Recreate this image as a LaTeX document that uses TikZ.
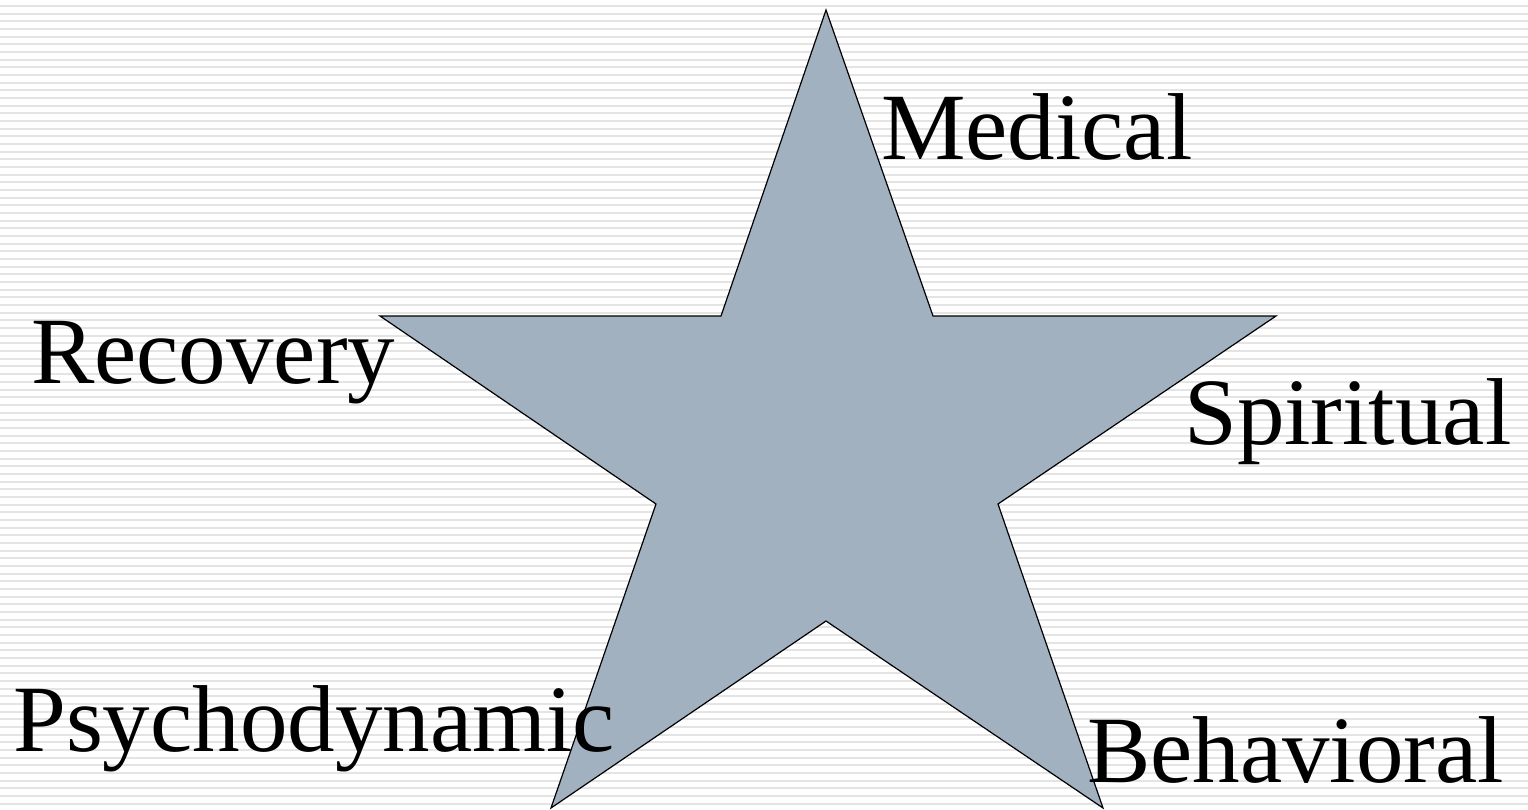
\documentclass[tikz,border=0pt]{standalone}
\usepackage{fontspec}
\setmainfont{Liberation Serif}
\usepackage{xcolor}
\usepackage{tikz}
\definecolor{stripe}{RGB}{228,228,228}
\definecolor{starfill}{RGB}{162,177,192}

\begin{document}
\begin{tikzpicture}[x=1pt, y=-1pt,
 every node/.style={inner sep=0pt, anchor=base west},
 label/.style={font=\fontsize{95}{100}\selectfont},
 starline/.style={draw=black, line width=1.2pt, fill=starfill, line join=miter}]
\useasboundingbox (0,0) rectangle (1528,810);
\fill[white] (0,0) rectangle (1528,810);
% striped backdrop
\foreach \i in {0,...,104}
  \draw[stripe, line width=2pt] (0,{6+7.67*\i}) -- (1528,{6+7.67*\i});
% the star
\coordinate (top) at (826,10);
\coordinate (inTR) at (933,316);
\coordinate (armR) at (1276,316);
\coordinate (inR) at (998,504);
\coordinate (footR) at (1103,808);
\coordinate (inB) at (826,621);
\coordinate (footL) at (551,808);
\coordinate (inL) at (656,504);
\coordinate (armL) at (380,316);
\coordinate (inTL) at (721,316);
\draw[starline] (top)--(inTR)--(armR)--(inR)--(footR)--(inB)--(footL)--(inL)--(armL)--(inTL)--cycle;
% labels
\node[label] (medical) at (881,160) {Medical};
\node[label] (recovery) at (31,383) {Recovery};
\node[label] (spiritual) at (1184,444) {Spiritual};
\node[label] (psycho) at (13,751) {Psychodynamic};
\node[label] (behav) at (1087,782) {Behavioral};
\end{tikzpicture}
\end{document}
